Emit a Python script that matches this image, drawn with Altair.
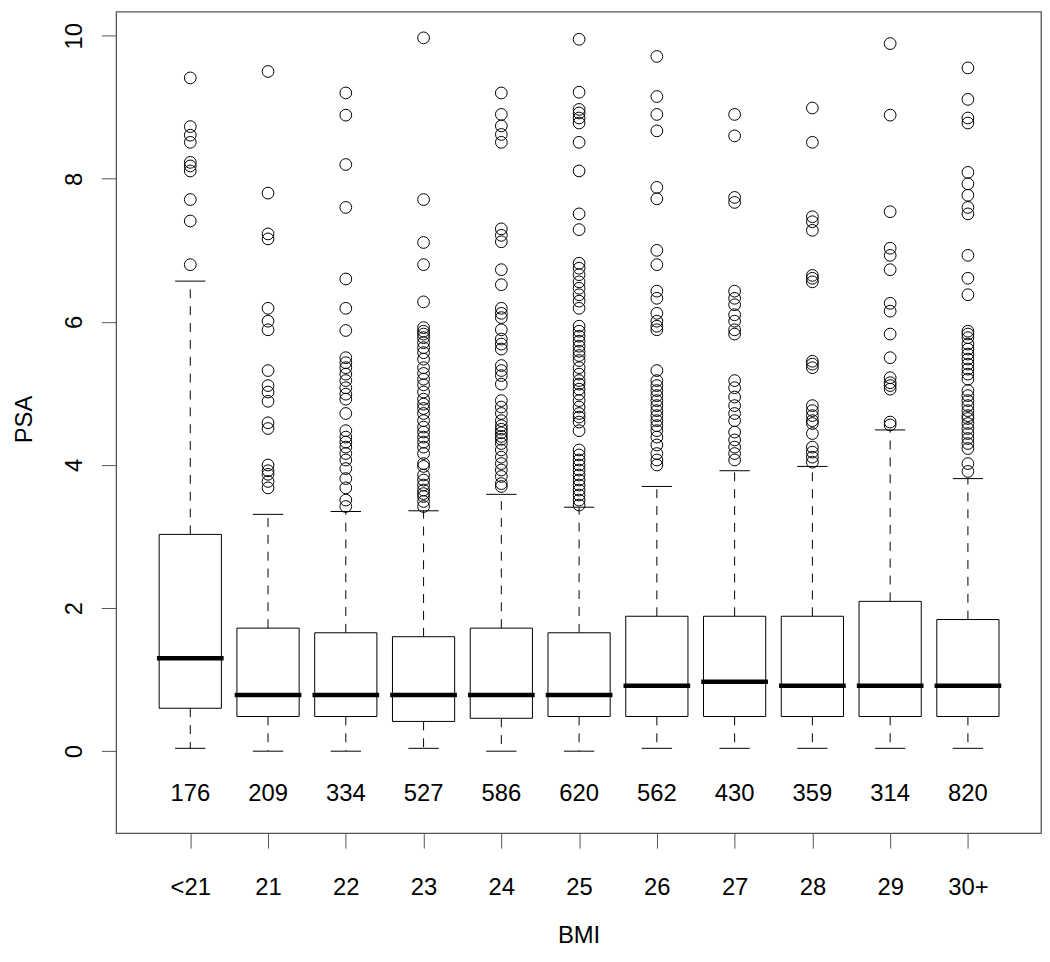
import json
import altair as alt
import pandas as pd

# ---------------- data ----------------
categories = ["<21", "21", "22", "23", "24", "25", "26", "27", "28", "29", "30+"]
counts = [176, 209, 334, 527, 586, 620, 562, 430, 359, 314, 820]
lower_whisker = [0.04, 0.0, 0.0, 0.04, 0.0, 0.0, 0.04, 0.04, 0.04, 0.04, 0.04]
q1 = [0.60, 0.485, 0.485, 0.416, 0.46, 0.485, 0.485, 0.485, 0.485, 0.485, 0.485]
median = [1.30, 0.785, 0.785, 0.785, 0.785, 0.785, 0.915, 0.97, 0.915, 0.915, 0.915]
q3 = [3.03, 1.72, 1.655, 1.60, 1.72, 1.655, 1.886, 1.886, 1.886, 2.094, 1.84]
upper_whisker = [6.57, 3.31, 3.35, 3.36, 3.59, 3.41, 3.70, 3.92, 3.98, 4.49, 3.81]

outliers = [
    [9.41, 8.73, 8.61, 8.51, 8.23, 8.18, 8.11, 7.71, 7.41, 6.80],
    [9.50, 7.80, 7.23, 7.16, 6.19, 6.01, 5.89, 5.32, 5.11, 5.02, 4.89, 4.59, 4.51,
     4.00, 3.92, 3.87, 3.77, 3.68],
    [9.20, 8.89, 8.20, 7.60, 6.60, 6.19, 5.88, 5.50, 5.43, 5.36, 5.27, 5.18, 5.08,
     4.99, 4.92, 4.72, 4.48, 4.39, 4.32, 4.25, 4.16, 4.07, 3.95, 3.81, 3.68, 3.51, 3.42],
    [9.97, 7.71, 7.11, 6.80, 6.28, 5.92, 5.87, 5.83, 5.78, 5.71, 5.64, 5.57, 5.48,
     5.36, 5.28, 5.20, 5.12, 5.02, 4.92, 4.85, 4.79, 4.72, 4.62, 4.53, 4.46, 4.39,
     4.32, 4.25, 4.16, 4.02, 3.98, 3.86, 3.79, 3.72, 3.65, 3.60, 3.56, 3.49, 3.42],
    [9.20, 8.90, 8.74, 8.62, 8.51, 7.30, 7.21, 7.12, 6.73, 6.52, 6.19, 6.12, 6.06,
     5.89, 5.76, 5.69, 5.62, 5.39, 5.32, 5.25, 5.13, 4.90, 4.81, 4.72, 4.62, 4.55,
     4.50, 4.45, 4.40, 4.36, 4.30, 4.21, 4.11, 4.02, 3.93, 3.84, 3.74, 3.70],
    [9.95, 9.21, 8.97, 8.92, 8.85, 8.78, 8.51, 8.11, 7.51, 7.29, 6.82, 6.75, 6.66,
     6.56, 6.47, 6.38, 6.29, 6.19, 5.94, 5.87, 5.80, 5.73, 5.66, 5.59, 5.53, 5.46,
     5.36, 5.27, 5.18, 5.13, 5.06, 4.99, 4.90, 4.81, 4.72, 4.67, 4.60, 4.48, 4.21,
     4.14, 4.07, 4.00, 3.93, 3.86, 3.79, 3.72, 3.65, 3.58, 3.51, 3.44],
    [9.71, 9.15, 8.90, 8.67, 7.88, 7.72, 7.00, 6.80, 6.43, 6.33, 6.12, 6.01, 5.94,
     5.89, 5.32, 5.18, 5.11, 5.04, 4.97, 4.90, 4.83, 4.76, 4.69, 4.62, 4.55, 4.48,
     4.39, 4.28, 4.16, 4.07, 4.00],
    [8.90, 8.60, 7.74, 7.67, 6.43, 6.33, 6.24, 6.10, 6.01, 5.89, 5.83, 5.18, 5.08,
     4.95, 4.83, 4.72, 4.62, 4.46, 4.35, 4.25, 4.16, 4.07],
    [8.99, 8.51, 7.47, 7.40, 7.28, 6.65, 6.61, 6.56, 5.45, 5.41, 5.36, 4.83, 4.76,
     4.69, 4.62, 4.58, 4.44, 4.25, 4.18, 4.11, 4.04],
    [9.89, 8.89, 7.54, 7.03, 6.93, 6.73, 6.26, 6.15, 5.83, 5.50, 5.22, 5.15, 5.11,
     5.06, 4.60, 4.56],
    [9.55, 9.11, 8.85, 8.78, 8.09, 7.93, 7.77, 7.60, 7.51, 6.93, 6.61, 6.38, 5.87,
     5.83, 5.78, 5.69, 5.62, 5.55, 5.48, 5.41, 5.34, 5.27, 5.20, 5.04, 4.97, 4.90,
     4.83, 4.76, 4.69, 4.65, 4.58, 4.51, 4.44, 4.37, 4.30, 4.23, 4.02, 3.91],
]

# ---------------- tables ----------------
stats = pd.DataFrame({
    "idx": list(range(1, len(categories) + 1)),
    "cat": categories,
    "n": counts,
    "lo": lower_whisker,
    "q1": q1,
    "med": median,
    "q3": q3,
    "hi": upper_whisker,
})
out_df = pd.DataFrame(
    [{"idx": i + 1, "cat": categories[i], "v": v} for i, vals in enumerate(outliers) for v in vals]
)

FONT = "Liberation Sans"
FS = 24
BOX_HALF = 0.4
CAP_HALF = 0.195
COUNT_Y = -0.69

xscale = alt.Scale(domain=[0.047, 11.94], nice=False, zero=False)
yscale = alt.Scale(domain=[-1.147, 10.337], nice=False, zero=False)

label_expr = json.dumps(categories) + "[datum.value - 1]"

xaxis = alt.Axis(
    values=list(range(1, len(categories) + 1)), labelExpr=label_expr,
    grid=False, domain=False, tickSize=15, tickColor="#555", tickWidth=1,
    labelFont=FONT, labelFontSize=FS, labelColor="black", labelPadding=47,
    labelBaseline="alphabetic", labelAlign="center", labelFlush=False, labelOverlap=False,
    title="BMI", titleFont=FONT, titleFontSize=FS, titleFontWeight="normal", titleColor="black",
    titleX=466, titleY=110, titleBaseline="alphabetic", titleAlign="center",
)
yaxis = alt.Axis(
    values=[0, 2, 4, 6, 8, 10], format="d",
    grid=False, domain=False, tickSize=15, tickColor="#555", tickWidth=1,
    labelFont=FONT, labelFontSize=FS, labelColor="black", labelPadding=20,
    labelAngle=270, labelAlign="center", labelBaseline="alphabetic", labelFlush=False,
    labelOverlap=False,
    title="PSA", titleFont=FONT, titleFontSize=FS, titleFontWeight="normal", titleColor="black",
    titleAngle=270, titleX=-85, titleY=410.5, titleBaseline="alphabetic", titleAlign="center",
)


def X(field):
    return alt.X(field, type="quantitative", scale=xscale, axis=xaxis)


def Y(field):
    return alt.Y(field, type="quantitative", scale=yscale, axis=yaxis)


base = alt.Chart(stats).transform_calculate(
    x_lo=f"datum.idx - {BOX_HALF}",
    x_hi=f"datum.idx + {BOX_HALF}",
    c_lo=f"datum.idx - {CAP_HALF}",
    c_hi=f"datum.idx + {CAP_HALF}",
)

dash = [9, 8]
whisk_up = base.mark_rule(color="black", strokeWidth=1, strokeDash=dash).encode(
    x=X("idx"), y=Y("q3"), y2="hi")
whisk_dn = base.mark_rule(color="black", strokeWidth=1, strokeDash=dash).encode(
    x=X("idx"), y=Y("q1"), y2="lo")
cap_up = base.mark_rule(color="black", strokeWidth=1).encode(
    x=X("c_lo"), x2="c_hi", y=Y("hi"))
cap_dn = base.mark_rule(color="black", strokeWidth=1).encode(
    x=X("c_lo"), x2="c_hi", y=Y("lo"))
boxes = base.mark_rect(fill="white", stroke="black", strokeWidth=1).encode(
    x=X("x_lo"), x2="x_hi", y=Y("q1"), y2="q3")
meds = base.mark_rule(color="black", strokeWidth=4.5, strokeCap="square").encode(
    x=X("x_lo"), x2="x_hi", y=Y("med"))
pts = alt.Chart(out_df).mark_point(
    shape="circle", filled=False, size=140, stroke="black", strokeWidth=1, opacity=1
).encode(x=X("idx"), y=Y("v"))
texts = base.transform_calculate(ty=f"{COUNT_Y}").mark_text(
    font=FONT, fontSize=FS, color="black", baseline="alphabetic", align="center"
).encode(x=X("idx"), y=Y("ty"), text="n:Q")

chart = alt.layer(whisk_up, whisk_dn, boxes, meds, cap_up, cap_dn, pts, texts).properties(
    width=932, height=828,
    autosize=alt.AutoSizeParams(type="none"),
    padding={"left": 109, "top": 0, "right": 1, "bottom": 112},
    background="white",
).configure_view(stroke="#555", strokeWidth=1.3)

chart.save("out.html", embed_options={"renderer": "svg", "actions": False})
